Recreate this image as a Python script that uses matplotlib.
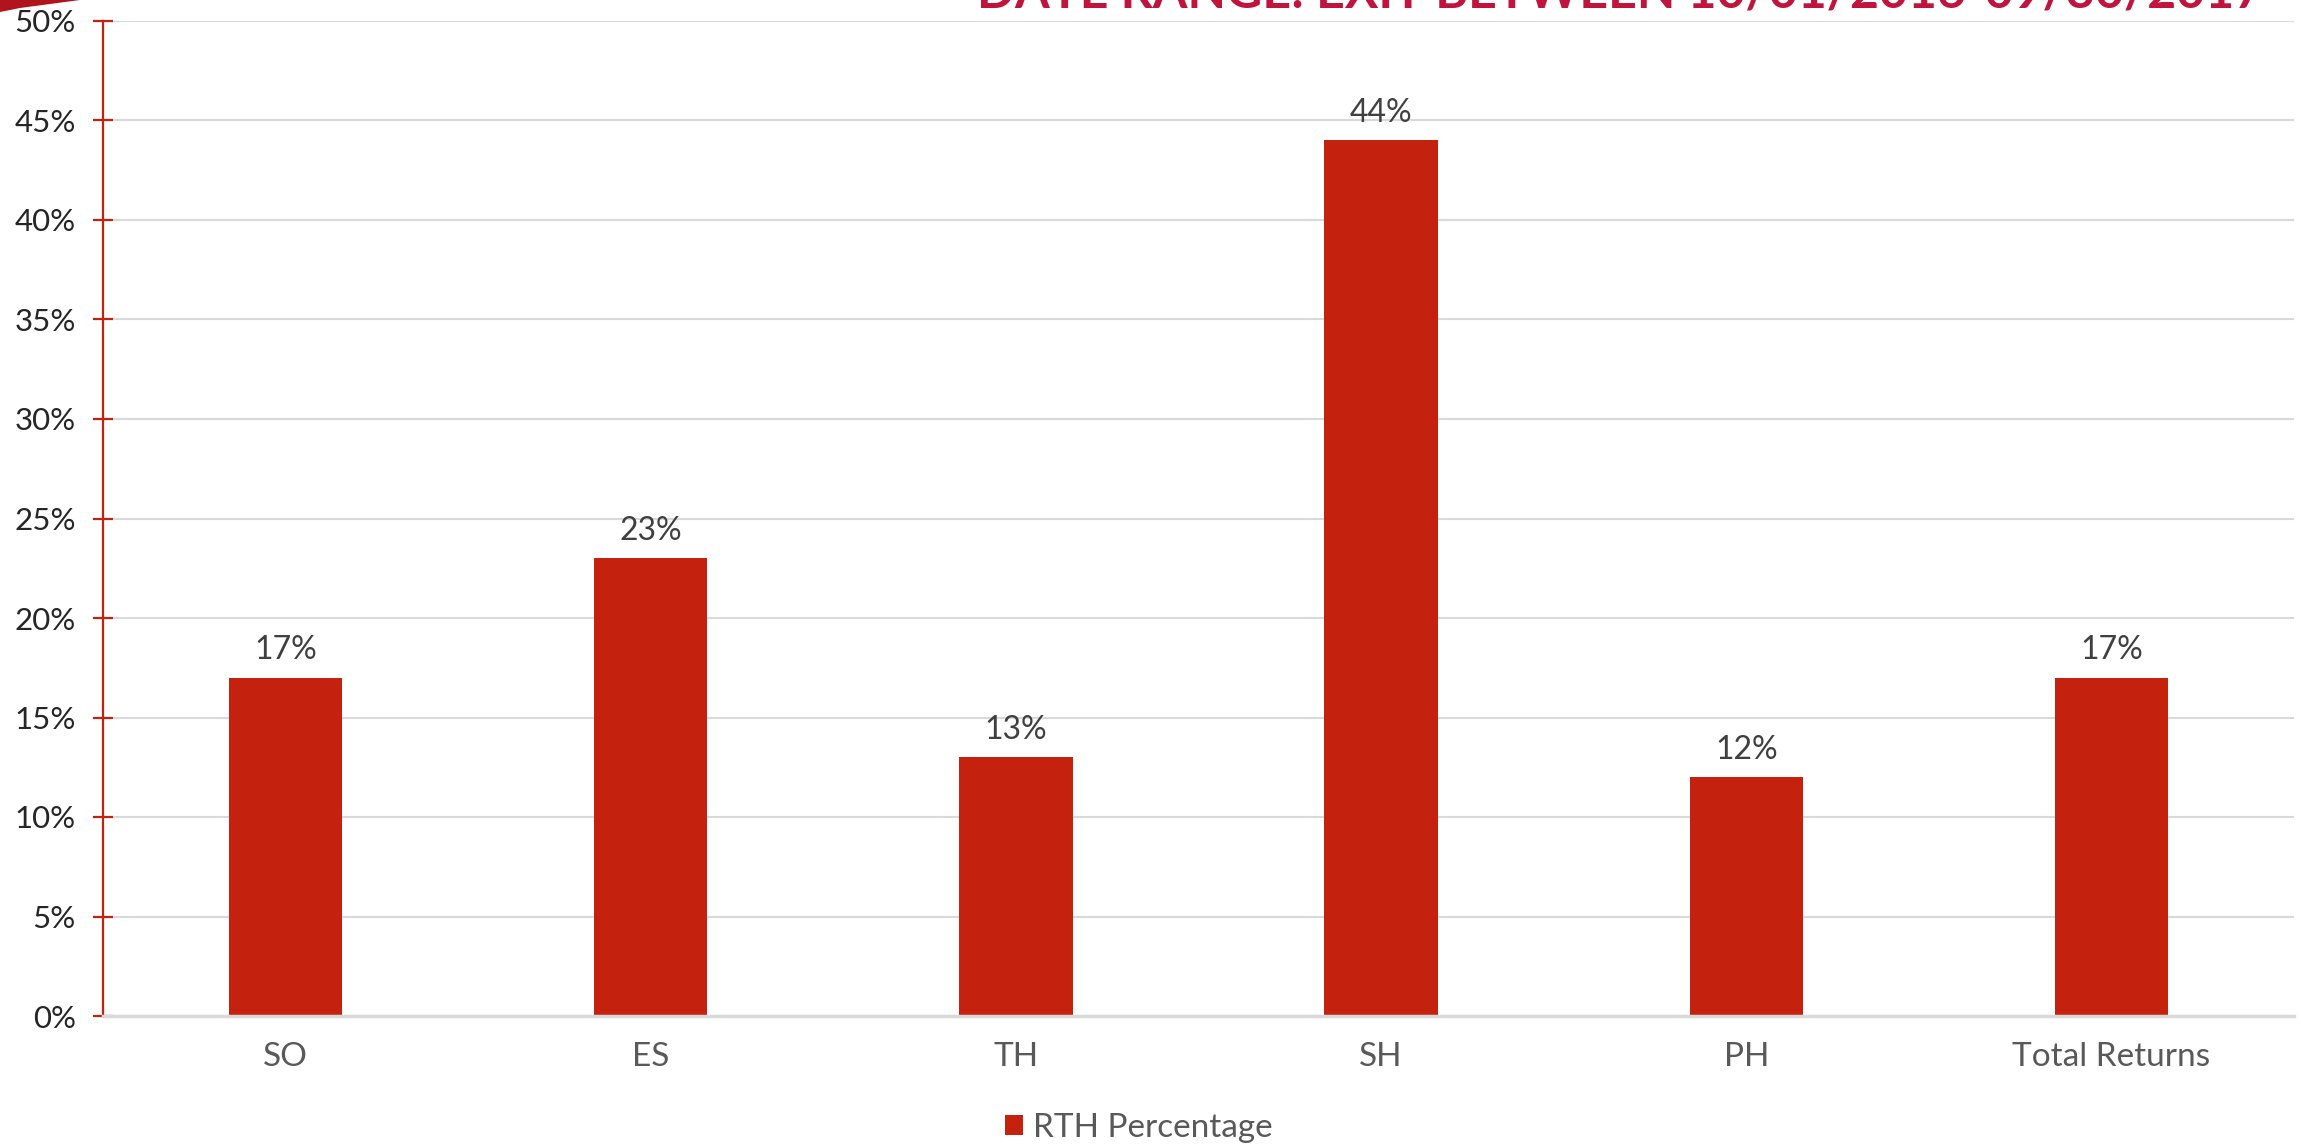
import matplotlib
matplotlib.use("Agg")
import matplotlib.pyplot as plt
from matplotlib.patches import Polygon, Patch
from matplotlib.ticker import FuncFormatter, MultipleLocator

categories = ["SO", "ES", "TH", "SH", "PH", "Total Returns"]
rth_percentage = [17, 23, 13, 44, 12, 17]
series_name = "RTH Percentage"
title_text = "DATE RANGE: EXIT BETWEEN 10/01/2016-09/30/2017"

W, H = 2301, 1146
DPI = 100
plt.rcParams['font.family'] = ['Lato', 'DejaVu Sans']

fig = plt.figure(figsize=(W / DPI, H / DPI), dpi=DPI)
fig.patch.set_facecolor("white")

ax = fig.add_axes([103 / W, (H - 1016) / H, (2294 - 103) / W, (1016 - 21) / H])

bar_color = "#C4210F"
x = list(range(len(categories)))
bars = ax.bar(x, rth_percentage, width=0.31, color=bar_color, zorder=3)
ax.bar_label(bars, labels=[f"{v}%" for v in rth_percentage], padding=9,
             fontsize=23, color="#404040")

ax.set_xlim(-0.5, len(categories) - 0.5)
ax.set_ylim(0, 50)
ax.yaxis.set_major_locator(MultipleLocator(5))
ax.yaxis.set_major_formatter(FuncFormatter(lambda v, p: f"{v:.0f}%"))
ax.set_xticks(x)
ax.set_xticklabels(categories)

ax.grid(axis="y", color="#D9D9D9", linewidth=1.5, zorder=0)
ax.set_axisbelow(True)
for s in ["top", "right"]:
    ax.spines[s].set_visible(False)
ax.spines["left"].set_color("#C4210F")
ax.spines["left"].set_linewidth(1.6)
ax.spines["bottom"].set_color("#D9D9D9")
ax.spines["bottom"].set_linewidth(2.5)
ax.spines["bottom"].set_zorder(4)

ax.tick_params(axis="y", direction="inout", length=15, width=1.6,
               color="#C4210F", labelsize=22.5, labelcolor="#262626", pad=12)
ax.tick_params(axis="x", length=0, labelsize=24, labelcolor="#595959", pad=19)

leg = fig.legend(handles=[Patch(facecolor=bar_color, label=series_name)],
                 loc="center", bbox_to_anchor=(1139 / W, (H - 1128) / H),
                 frameon=False, fontsize=24, handlelength=0.55, handleheight=0.55,
                 handletextpad=0.3, labelcolor="#595959")

fig.text(2263 / W, (H - 8) / H, title_text, ha="right", va="baseline",
         fontsize=36, fontweight="bold", color="#C0143C")

# decorative swoosh at top-left corner
swoosh = Polygon([[0 / W, 1.0], [80 / W, 1.0], [50 / W, (H - 4) / H],
                  [20 / W, (H - 8) / H], [0 / W, (H - 12) / H]],
                 closed=True, transform=fig.transFigure, facecolor="#B0141C",
                 edgecolor="none")
fig.patches.append(swoosh)

fig.savefig("out.png", dpi=DPI, facecolor="white")
